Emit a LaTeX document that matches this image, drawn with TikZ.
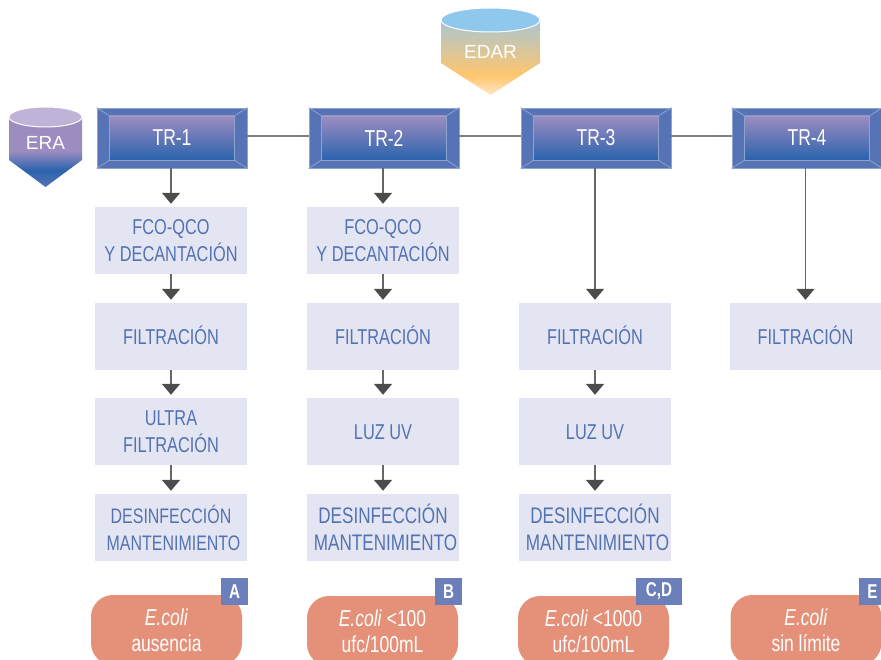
\documentclass[tikz,border=0pt]{standalone}
\usepackage{fontspec}
\setmainfont[FakeStretch=0.76]{Liberation Sans}
\newfontfamily\rotulofont{Liberation Sans}
\usetikzlibrary{arrows.meta}
\definecolor{marco}{HTML}{5573B5}
\definecolor{bordemarco}{HTML}{8FA3CF}
\definecolor{caja}{HTML}{E3E6F2}
\definecolor{texto}{HTML}{5472B2}
\definecolor{pastilla}{HTML}{E59078}
\definecolor{etiqueta}{HTML}{6B80BA}
\definecolor{morado}{HTML}{9D8CC0}
\definecolor{azul}{HTML}{2A63AD}
\definecolor{tapaera}{HTML}{BFB3D8}
\definecolor{tapaedar}{HTML}{8FC8EC}
\definecolor{naranja}{HTML}{FFC66E}
\definecolor{puntaedar}{HTML}{FFE7C4}
\definecolor{cuerpoedar}{HTML}{A9C6D2}
\pgfdeclareverticalshading{sombraera}{100bp}{color(0bp)=(marco); color(25bp)=(marco); color(37bp)=(azul); color(51bp)=(morado); color(100bp)=(morado)}
\pgfdeclareverticalshading{sombraedar}{100bp}{color(0bp)=(puntaedar); color(25bp)=(puntaedar); color(38bp)=(naranja); color(75bp)=(cuerpoedar); color(100bp)=(cuerpoedar)}
\tikzset{
  trmarco/.style={draw=bordemarco, fill=marco, line width=0.8pt, minimum width=150pt, minimum height=60pt, inner sep=0pt},
  trcaja/.style={draw=bordemarco, top color=morado, bottom color=azul, line width=0.8pt, minimum width=125pt, minimum height=44pt, inner sep=0pt, text=white, font=\fontsize{23}{26}\selectfont},
  bisel/.style={draw=bordemarco, line width=0.8pt},
  etapa/.style={fill=caja, minimum width=152pt, minimum height=67pt, inner sep=0pt, align=center, text=texto, font=\fontsize{21.5}{27}\selectfont},
  etapalarga/.style={etapa, font=\fontsize{22.5}{27}\selectfont},
  etapauna/.style={etapa, text height=15.5pt, text depth=0pt},
  pastillaec/.style={fill=pastilla, rounded corners=22pt, minimum width=151pt, minimum height=70pt, inner sep=0pt, align=center, text=white, font=\fontsize{23}{26}\selectfont},
  letra/.style={fill=etiqueta, minimum height=27pt, minimum width=27pt, inner sep=0pt, text=white, font=\fontsize{20}{20}\selectfont\bfseries},
  flecha/.style={draw=black!60, line width=1.5pt, -{Triangle[width=18pt,length=11pt,color=black!70]}, shorten >=3pt},
  enlace/.style={draw=black!50, line width=2pt},
  tapa/.style={draw=white, line width=1pt},
  rotulo/.style={text=white, inner sep=0pt, font=\fontsize{19}{22}\selectfont\rotulofont}
}
\begin{document}
\begin{tikzpicture}[x=1pt,y=-1pt]
  \useasboundingbox (0,0) rectangle (881,660);
  \clip (0,0) rectangle (881,660);

  % Depositos
  \shade[shading=sombraera] (9,117) -- (9,160) -- (45.5,187) -- (82,160) -- (82,117) -- cycle;
  \draw[tapa, fill=tapaera] (45.5,117) ellipse [x radius=36.5, y radius=10];
  \node[rotulo] (era) at (45.5,143) {ERA};

  \shade[shading=sombraedar] (441,20) -- (441,63) -- (490.5,95) -- (540,63) -- (540,20) -- cycle;
  \draw[tapa, fill=tapaedar] (490.5,20) ellipse [x radius=49.5, y radius=12];
  \node[rotulo] (edar) at (490.5,52) {EDAR};

  % Tratamientos
  \node[trmarco] (tr1) at (172,138) {};
  \node[trmarco] (tr2) at (384,138) {};
  \node[trmarco] (tr3) at (596,138) {};
  \node[trmarco] (tr4) at (807,138) {};

  \draw[enlace] ([yshift=1.5pt]tr1.east) -- ([yshift=1.5pt]tr2.west);
  \draw[enlace] ([yshift=1.5pt]tr2.east) -- ([yshift=1.5pt]tr3.west);
  \draw[enlace] ([yshift=1.5pt]tr3.east) -- ([yshift=1.5pt]tr4.west);

  \node[trcaja] (tr1i) at (tr1) {TR-1};
  \node[trcaja] (tr2i) at (tr2) {TR-2};
  \node[trcaja] (tr3i) at (tr3) {TR-3};
  \node[trcaja] (tr4i) at (tr4) {TR-4};

  \draw[bisel] (tr1.north west) -- (tr1i.north west) (tr1.north east) -- (tr1i.north east) (tr1.south west) -- (tr1i.south west) (tr1.south east) -- (tr1i.south east);
  \draw[bisel] (tr2.north west) -- (tr2i.north west) (tr2.north east) -- (tr2i.north east) (tr2.south west) -- (tr2i.south west) (tr2.south east) -- (tr2i.south east);
  \draw[bisel] (tr3.north west) -- (tr3i.north west) (tr3.north east) -- (tr3i.north east) (tr3.south west) -- (tr3i.south west) (tr3.south east) -- (tr3i.south east);
  \draw[bisel] (tr4.north west) -- (tr4i.north west) (tr4.north east) -- (tr4i.north east) (tr4.south west) -- (tr4i.south west) (tr4.south east) -- (tr4i.south east);

  % Etapas
  \node[etapa] (fco1) at (171,240.5) {FCO-QCO\\Y DECANTACIÓN};
  \node[etapauna] (fil1) at (171,336.5) {FILTRACIÓN};
  \node[etapa] (ult1) at (171,431.5) {ULTRA\\FILTRACIÓN};
  \node[etapa, font=\fontsize{21}{27}\selectfont] (des1) at (171,527.5) {DESINFECCIÓN\\\hspace{5pt}MANTENIMIENTO};

  \node[etapa] (fco2) at (383,240.5) {FCO-QCO\\Y DECANTACIÓN};
  \node[etapauna] (fil2) at (383,336.5) {FILTRACIÓN};
  \node[etapauna] (luz2) at (383,431.5) {LUZ UV};
  \node[etapalarga] (des2) at (383,527.5) {DESINFECCIÓN\\\hspace{5pt}MANTENIMIENTO};

  \node[etapauna] (fil3) at (595,336.5) {FILTRACIÓN};
  \node[etapauna] (luz3) at (595,431.5) {LUZ UV};
  \node[etapalarga] (des3) at (595,527.5) {DESINFECCIÓN\\\hspace{5pt}MANTENIMIENTO};

  \node[etapauna] (fil4) at (805.5,336.5) {FILTRACIÓN};

  \draw[flecha] (tr1.south -| fco1) -- (fco1);
  \draw[flecha] (fco1) -- (fil1);
  \draw[flecha] (fil1) -- (ult1);
  \draw[flecha] (ult1) -- (des1);

  \draw[flecha] (tr2.south -| fco2) -- (fco2);
  \draw[flecha] (fco2) -- (fil2);
  \draw[flecha] (fil2) -- (luz2);
  \draw[flecha] (luz2) -- (des2);

  \draw[flecha] (tr3.south -| fil3) -- (fil3);
  \draw[flecha] (fil3) -- (luz3);
  \draw[flecha] (luz3) -- (des3);

  \draw[flecha] (tr4.south -| fil4) -- (fil4);

  % Resultados
  \node[pastillaec] (res1) at (166.5,630) {\textit{E.coli}\\ausencia};
  \node[pastillaec] (res2) at (382.5,631) {\textit{E.coli} <100\\ufc/100mL};
  \node[pastillaec] (res3) at (593.5,631) {\textit{E.coli} <1000\\ufc/100mL};
  \node[pastillaec] (res4) at (806,630) {\textit{E.coli}\\sin límite};

  \node[letra] (letA) at (234.5,591.5) {A};
  \node[letra] (letB) at (448.5,591.5) {B};
  \node[letra, minimum width=46pt] (letC) at (659,591.5) {C,D};
  \node[letra] (letE) at (872.5,591.5) {E};
\end{tikzpicture}
\end{document}
